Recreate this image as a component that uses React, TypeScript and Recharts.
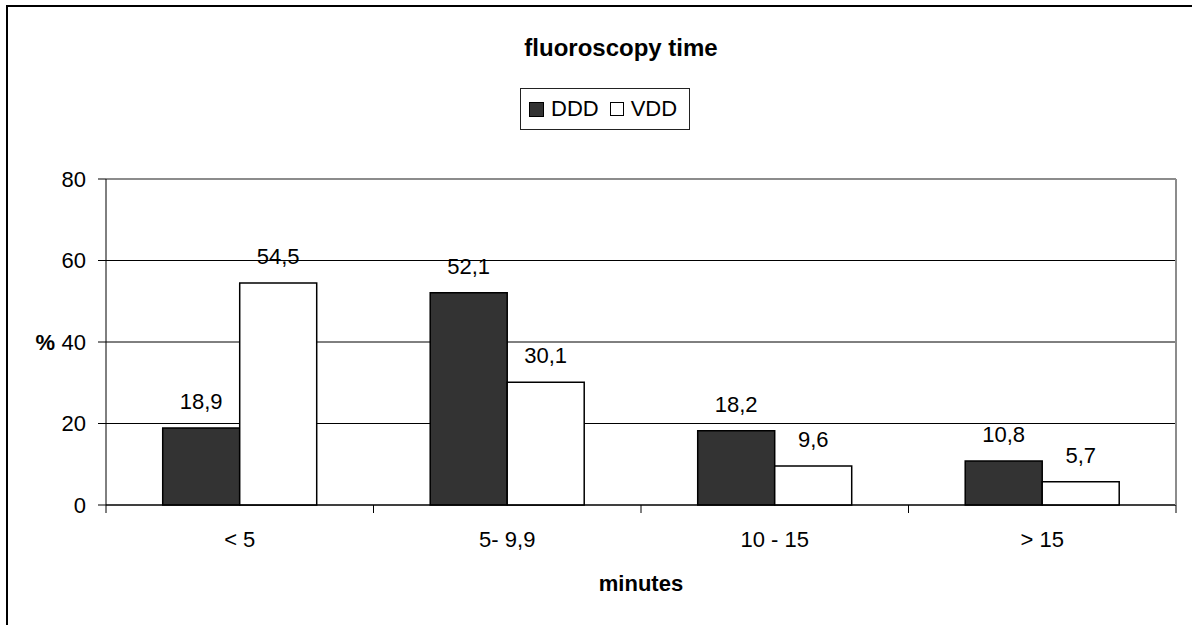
import React from 'react';
import { BarChart, Bar, XAxis, YAxis, CartesianGrid, LabelList, Legend, ReferenceLine } from 'recharts';

const categories = ['< 5', '5- 9,9', '10 - 15', '> 15'];
const dddValues = [18.9, 52.1, 18.2, 10.8];
const vddValues = [54.5, 30.1, 9.6, 5.7];
const yTicks = [0, 20, 40, 60, 80];

const data = categories.map((c, i) => ({ cat: c, DDD: dddValues[i], VDD: vddValues[i] }));

const FONT = '"Liberation Sans", Arial, sans-serif';
const W = 1192;
const H = 625;
const MARGIN = { top: 179, right: 16, bottom: 0, left: 46 };
const Y_AXIS_W = 60;
const X_AXIS_H = 120;
const PLOT_W = W - MARGIN.left - MARGIN.right - Y_AXIS_W;
const HALF_BAND = PLOT_W / categories.length / 2;

const fmt = (v: any) => String(v).replace('.', ',');

const CatTick = (props: any) => {
  const { x, y, payload, index } = props;
  return (
    <g>
      <line x1={x - HALF_BAND} x2={x - HALF_BAND} y1={y} y2={y + 8} stroke="#000" strokeWidth={1} />
      {index === categories.length - 1 && (
        <line x1={x + HALF_BAND} x2={x + HALF_BAND} y1={y} y2={y + 8} stroke="#000" strokeWidth={1} />
      )}
      <text x={x} y={y + 42} textAnchor="middle" fontSize={22} fill="#000" fontFamily={FONT}>
        {payload.value}
      </text>
    </g>
  );
};

const LegendBox = () => (
  <div
    style={{
      width: 170,
      height: 42,
      boxSizing: 'border-box',
      border: '1px solid #222',
      background: '#fff',
      display: 'flex',
      alignItems: 'center',
      paddingLeft: 8,
      fontFamily: FONT,
      fontSize: 22,
      color: '#000',
    }}
  >
    <span style={{ width: 13, height: 13, background: '#333', border: '1px solid #000', display: 'inline-block' }} />
    <span style={{ marginLeft: 7 }}>DDD</span>
    <span style={{ marginLeft: 11, width: 12, height: 12, background: '#fff', border: '1px solid #000', display: 'inline-block' }} />
    <span style={{ marginLeft: 7 }}>VDD</span>
  </div>
);

export default function App() {
  return (
    <div style={{ position: 'absolute', left: 0, top: 0, width: W, height: H, overflow: 'hidden', background: '#fff', fontFamily: FONT }}>
      <div
        style={{
          position: 'absolute',
          left: 6,
          top: 5,
          width: 1300,
          height: 800,
          border: '2px solid #000',
          boxSizing: 'border-box',
        }}
      />
      <div
        style={{
          position: 'absolute',
          left: 421,
          width: 400,
          top: 34,
          textAlign: 'center',
          fontWeight: 'bold',
          fontSize: 24,
          fontFamily: FONT,
          color: '#000',
        }}
      >
        fluoroscopy time
      </div>
      <div style={{ position: 'absolute', left: 0, top: 0 }}>
        <BarChart
          width={W}
          height={H}
          data={data}
          margin={MARGIN}
          barCategoryGap="21.2%"
          barGap={0}
        >
          <CartesianGrid horizontal={true} vertical={false} stroke="#000" strokeWidth={1} />
          <ReferenceLine y={80} stroke="#8c8c8c" strokeWidth={2} />
          <XAxis
            dataKey="cat"
            height={X_AXIS_H}
            axisLine={{ stroke: '#000', strokeWidth: 1 }}
            tickLine={false}
            tickSize={0}
            tickMargin={0}
            interval={0}
            tick={<CatTick />}
            label={{ value: 'minutes', position: 'insideBottom', offset: 34, fontSize: 22, fontWeight: 'bold', fill: '#000', fontFamily: FONT }}
          />
          <YAxis
            width={Y_AXIS_W}
            domain={[0, 80]}
            ticks={yTicks}
            interval={0}
            axisLine={{ stroke: '#000', strokeWidth: 1 }}
            tickLine={{ stroke: '#000' }}
            tickSize={8}
            tickMargin={12}
            tick={{ fontSize: 22, fill: '#000', fontFamily: FONT }}
            label={{ value: '%', position: 'left', offset: -9, fontSize: 22, fontWeight: 'bold', fill: '#000', fontFamily: FONT }}
          />
          <Legend
            layout="vertical"
            align="center"
            verticalAlign="middle"
            wrapperStyle={{ position: 'absolute', left: 520, top: 88, width: 170, height: 42 }}
            content={<LegendBox />}
          />
          <Bar dataKey="DDD" fill="#333333" stroke="#000" strokeWidth={1.5} isAnimationActive={false}>
            <LabelList dataKey="DDD" position="top" offset={19} formatter={fmt} fontSize={22} fill="#000" fontFamily={FONT} />
          </Bar>
          <Bar dataKey="VDD" fill="#ffffff" stroke="#000" strokeWidth={1.5} isAnimationActive={false}>
            <LabelList dataKey="VDD" position="top" offset={19} formatter={fmt} fontSize={22} fill="#000" fontFamily={FONT} />
          </Bar>
          <ReferenceLine x={categories[categories.length - 1]} stroke="none" />
        </BarChart>
      </div>
      <div
        style={{
          position: 'absolute',
          left: W - MARGIN.right - 1,
          top: MARGIN.top,
          width: 2,
          height: H - MARGIN.top - X_AXIS_H,
          background: '#8c8c8c',
        }}
      />
    </div>
  );
}
